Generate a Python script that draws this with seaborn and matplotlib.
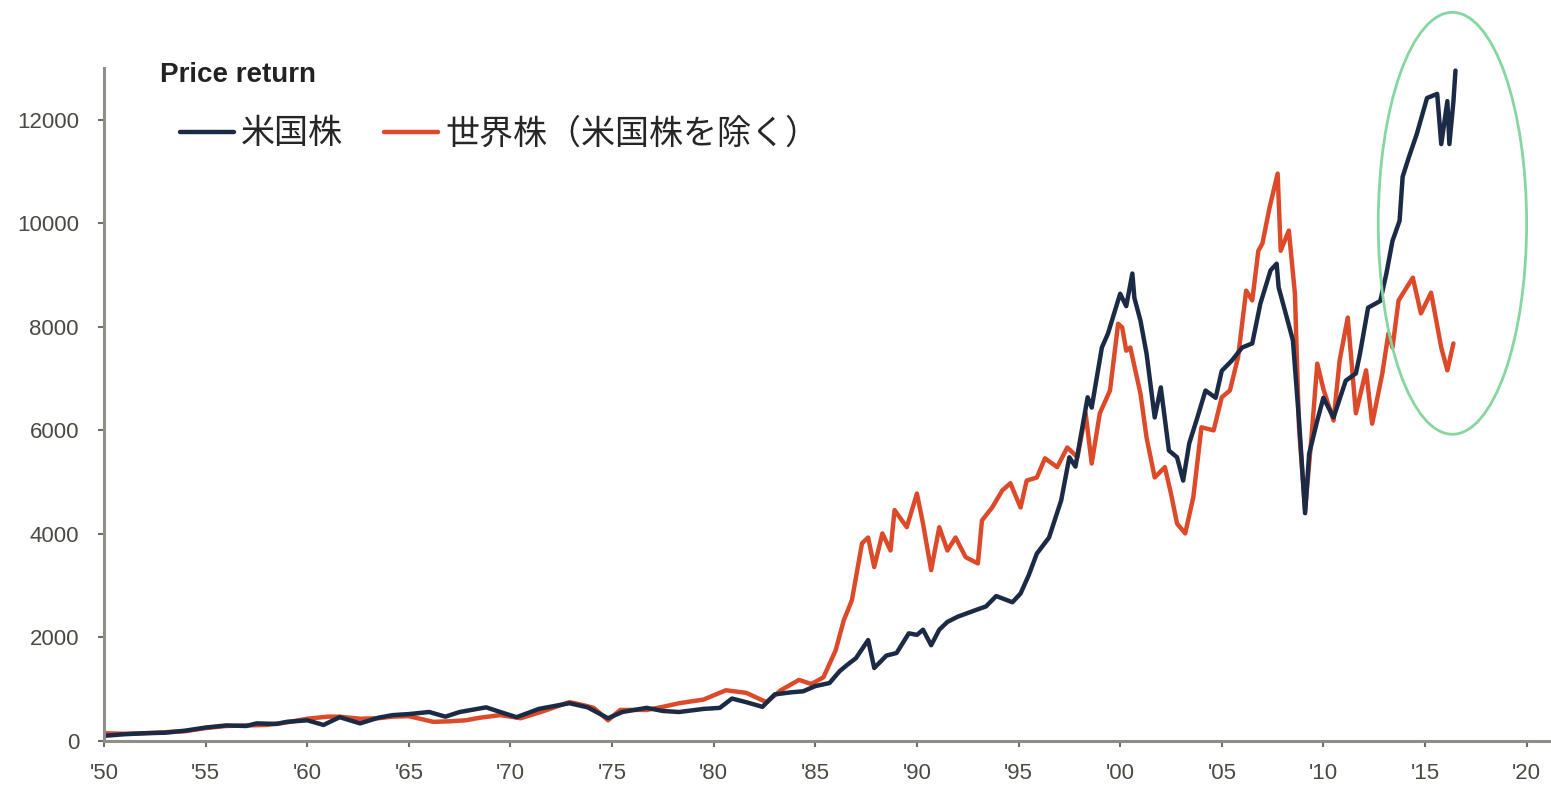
import numpy as np
import pandas as pd
import matplotlib
matplotlib.use("Agg")
import matplotlib.pyplot as plt
from matplotlib.patches import Ellipse
import seaborn as sns

# ---------------- data ----------------
us_years = [1950.0, 1951.0, 1952.0, 1953.0, 1954.0, 1955.0, 1956.0, 1957.0, 1957.5, 1958.5,
            1959.0, 1960.0, 1960.8, 1961.6, 1962.6, 1963.5, 1964.2, 1965.0, 1966.0, 1966.8,
            1967.5, 1968.8, 1969.5, 1970.3, 1971.4, 1972.9, 1973.8, 1974.8, 1975.5, 1976.7,
            1977.5, 1978.3, 1979.5, 1980.3, 1980.9, 1981.6, 1982.4, 1983.0, 1983.8, 1984.4,
            1985.0, 1985.7, 1986.2, 1986.6, 1987.0, 1987.6, 1987.9, 1988.5, 1989.0, 1989.6,
            1990.0, 1990.3, 1990.7, 1991.1, 1991.5, 1992.0, 1992.9, 1993.4, 1993.9, 1994.7,
            1995.1, 1995.5, 1995.9, 1996.5, 1997.1, 1997.5, 1997.8, 1998.4, 1998.6, 1999.1,
            1999.4, 2000.0, 2000.3, 2000.6, 2000.7, 2001.0, 2001.3, 2001.7, 2002.0, 2002.4,
            2002.8, 2003.1, 2003.4, 2003.8, 2004.2, 2004.7, 2005.0, 2005.5, 2006.0, 2006.5,
            2006.9, 2007.4, 2007.7, 2007.8, 2008.2, 2008.5, 2008.8, 2009.1, 2009.3, 2009.7,
            2010.0, 2010.5, 2011.1, 2011.6, 2011.8, 2012.2, 2012.8, 2013.1, 2013.4, 2013.75,
            2013.9, 2014.2, 2014.6, 2015.1, 2015.6, 2015.8, 2016.1, 2016.2, 2016.4, 2016.5]
us_values = [100, 130, 150, 160, 200, 260, 300, 290, 340, 330,
             370, 400, 310, 460, 340, 450, 500, 520, 560, 470,
             560, 650, 560, 460, 620, 730, 650, 440, 560, 640,
             580, 560, 620, 640, 820, 750, 660, 900, 940, 960,
             1060, 1120, 1350, 1480, 1600, 1950, 1410, 1650, 1700, 2080,
             2050, 2150, 1850, 2150, 2300, 2400, 2530, 2600, 2800, 2680,
             2850, 3200, 3620, 3930, 4650, 5480, 5300, 6640, 6440, 7600,
             7870, 8640, 8400, 9030, 8560, 8120, 7480, 6250, 6830, 5610,
             5480, 5030, 5750, 6250, 6770, 6630, 7150, 7350, 7600, 7680,
             8450, 9090, 9220, 8760, 8180, 7740, 6200, 4400, 5550, 6190,
             6630, 6250, 6960, 7100, 7480, 8370, 8500, 9030, 9660, 10050,
             10900, 11270, 11730, 12420, 12500, 11530, 12360, 11530, 12360, 12950]

exus_years = [1950.0, 1951.0, 1952.0, 1953.0, 1954.0, 1955.0, 1956.0, 1957.0, 1958.0, 1959.0,
              1960.0, 1961.0, 1961.6, 1962.6, 1963.5, 1964.2, 1965.0, 1966.2, 1967.0, 1967.8,
              1968.5, 1969.5, 1970.5, 1971.5, 1972.9, 1973.5, 1974.1, 1974.8, 1975.4, 1976.7,
              1977.5, 1978.3, 1979.5, 1980.6, 1981.6, 1982.6, 1983.3, 1984.2, 1984.8, 1985.4,
              1986.0, 1986.4, 1986.8, 1987.3, 1987.6, 1987.9, 1988.3, 1988.7, 1988.9, 1989.5,
              1990.0, 1990.3, 1990.7, 1991.1, 1991.5, 1991.9, 1992.4, 1993.0, 1993.2, 1993.7,
              1994.2, 1994.6, 1995.1, 1995.4, 1995.9, 1996.3, 1996.9, 1997.4, 1997.9, 1998.3,
              1998.6, 1999.0, 1999.5, 1999.9, 2000.1, 2000.3, 2000.5, 2001.0, 2001.3, 2001.7,
              2002.2, 2002.5, 2002.8, 2003.2, 2003.6, 2004.0, 2004.6, 2005.0, 2005.4, 2005.8,
              2006.2, 2006.5, 2006.8, 2007.0, 2007.35, 2007.75, 2007.9, 2008.3, 2008.6, 2008.8,
              2009.1, 2009.4, 2009.7, 2010.0, 2010.5, 2010.8, 2011.2, 2011.6, 2012.1, 2012.4,
              2012.9, 2013.2, 2013.4, 2013.7, 2014.4, 2014.8, 2015.3, 2015.8, 2016.1, 2016.4]
exus_values = [150, 140, 150, 170, 190, 250, 290, 300, 310, 360,
               430, 470, 470, 430, 440, 470, 480, 370, 380, 400,
               450, 500, 440, 560, 750, 700, 640, 400, 600, 600,
               660, 730, 800, 980, 930, 750, 980, 1180, 1100, 1230,
               1750, 2330, 2720, 3820, 3930, 3360, 4010, 3680, 4460, 4130,
               4780, 4200, 3300, 4130, 3680, 3930, 3550, 3430, 4260, 4510,
               4840, 4980, 4510, 5030, 5090, 5460, 5290, 5670, 5480, 6330,
               5360, 6330, 6770, 8060, 7990, 7540, 7600, 6710, 5860, 5090,
               5290, 4780, 4200, 4010, 4710, 6060, 6000, 6640, 6770, 7410,
               8700, 8510, 9470, 9610, 10300, 10960, 9470, 9860, 8640, 6060,
               4460, 5800, 7290, 6800, 6190, 7350, 8180, 6330, 7160, 6130,
               7100, 7870, 7600, 8510, 8950, 8260, 8660, 7600, 7160, 7680]

series_names = ["米国株", "世界株（米国株を除く）"]
x_ticks = [1950, 1955, 1960, 1965, 1970, 1975, 1980, 1985, 1990, 1995,
           2000, 2005, 2010, 2015, 2020]
x_tick_labels = ["'50", "'55", "'60", "'65", "'70", "'75", "'80", "'85", "'90", "'95",
                 "'00", "'05", "'10", "'15", "'20"]
y_ticks = [0, 2000, 4000, 6000, 8000, 10000, 12000]
title_text = "Price return"

# ---------------- figure ----------------
sns.set_theme(style="white")
plt.rcParams["font.family"] = ["Liberation Sans", "DejaVu Sans"]

df = pd.concat([
    pd.DataFrame({"year": us_years, "value": us_values, "series": series_names[0]}),
    pd.DataFrame({"year": exus_years, "value": exus_values, "series": series_names[1]}),
], ignore_index=True)

fig = plt.figure(figsize=(15.51, 7.88), dpi=100)
ax = fig.add_axes([104 / 1551, 47 / 788, (1551 - 104) / 1551, (741 - 68) / 788])

palette = {series_names[0]: "#1c2b45", series_names[1]: "#dc4a2a"}
sns.lineplot(data=df, x="year", y="value", hue="series", palette=palette,
             hue_order=series_names[::-1], estimator=None, sort=False,
             linewidth=3.2, ax=ax, legend=True)

ax.set_xlim(1950, 2021.2)
ax.set_ylim(0, 13000)
ax.set_xticks(x_ticks)
ax.set_xticklabels(x_tick_labels)
ax.set_yticks(y_ticks)
ax.set_xlabel("")
ax.set_ylabel("")

for side in ["top", "right"]:
    ax.spines[side].set_visible(False)
for side in ["left", "bottom"]:
    ax.spines[side].set_color("#8e8e88")
    ax.spines[side].set_linewidth(2.2)

ax.tick_params(axis="both", which="major", direction="out", length=4, width=1.5,
               color="#6e6e68", labelsize=16, labelcolor="#4a4a44")
ax.tick_params(axis="y", pad=14, left=True)
ax.tick_params(axis="x", pad=12, bottom=True)

# legend
handles, labels = ax.get_legend_handles_labels()
hmap = dict(zip(labels, handles))
leg = ax.legend([hmap[n] for n in series_names], series_names, loc="center left",
                bbox_to_anchor=(149 / 1551, 1 - 134 / 788), bbox_transform=fig.transFigure,
                ncol=2, frameon=False, handlelength=1.6, handletextpad=0.2,
                columnspacing=1.2, prop={"family": ["Noto Sans CJK JP", "DejaVu Sans"], "size": 24.5})
for line in leg.get_lines():
    line.set_linewidth(3.2)

fig.text(160 / 1551, 1 - 75 / 788, title_text, fontsize=20, fontweight="bold",
         color="#222222", ha="left", va="center", family=["Liberation Sans", "DejaVu Sans"])

# highlight ellipse (annotation)
ell = Ellipse((2016.35, 10000), width=7.3, height=8150, fill=False,
              edgecolor="#86d6a0", linewidth=2.0, clip_on=False, zorder=5)
ax.add_patch(ell)

fig.savefig("out.png", dpi=100)
